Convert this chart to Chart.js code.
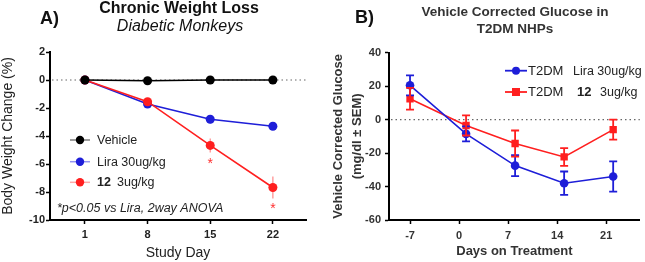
<!DOCTYPE html>
<html><head><meta charset="utf-8">
<script src="https://cdn.jsdelivr.net/npm/chart.js@4.4.0/dist/chart.umd.min.js"></script>
<style>
html,body{margin:0;padding:0;background:#fff;}
#wrap{position:relative;width:645px;height:262px;overflow:hidden;background:#fff;}
#cA{position:absolute;left:0;top:0;}
#cB{position:absolute;left:330px;top:0;}
</style></head><body>
<div id="wrap">
<canvas id="cA" width="330" height="262"></canvas>
<canvas id="cB" width="315" height="262"></canvas>
</div>
<script>
// ---------- Data: panel A (body weight change, %) ----------
const daysA = [1, 8, 15, 22];
const ticksA = [1, 8, 15, 22];
const ticksAY = [-10, -8, -6, -4, -2, 0, 2];
const vehicle = [0, -0.05, 0, 0];
const vehicleErr = [0, 0.1, 0.1, 0.1];
const liraA = [0, -1.72, -2.8, -3.3];
const liraAErr = [0, 0.12, 0.3, 0.25];
const cmp12A = [0, -1.55, -4.67, -7.68];
const cmp12AErr = [0, 0.12, 0.5, 0.78];
const starsA = [{x: 15, y: -5.75}, {x: 22, y: -9.0}];

// ---------- Data: panel B (vehicle corrected glucose) ----------
const daysB = [-7, 1, 8, 15, 22];
const ticksB = [-7, 0, 7, 14, 21];
const liraB = [20.5, -8.5, -27.5, -38, -34];
const liraBErr = [6, 4.5, 6.3, 7, 9];
const cmp12B = [12.5, -3.5, -14.3, -22.3, -6];
const cmp12BErr = [6.5, 6, 7.8, 5.3, 6];

const FF = '"Liberation Sans", Arial, Helvetica, sans-serif';
const BLUE = '#1e1ed8';
const RED = '#ff1f1f';

function pts(xs, ys) { return xs.map((x, i) => ({x: x, y: ys[i]})); }

const zeroLine = {
  id: 'zeroLine',
  beforeDatasetsDraw(chart) {
    const {ctx, chartArea} = chart;
    const y = chart.scales.y.getPixelForValue(0);
    ctx.save();
    ctx.strokeStyle = '#666';
    ctx.lineWidth = 1.2;
    ctx.setLineDash([1.5, 3]);
    ctx.beginPath();
    ctx.moveTo(chartArea.left + 2, y);
    ctx.lineTo(chartArea.right, y);
    ctx.stroke();
    ctx.restore();
  }
};

function errBarPlugin(id, when, capW, width) {
  const p = {id: id};
  p[when] = function(chart) {
    const ctx = chart.ctx;
    const ys = chart.scales.y;
    chart.data.datasets.forEach((ds, di) => {
      if (!ds.errs) return;
      const meta = chart.getDatasetMeta(di);
      ctx.save();
      ctx.strokeStyle = ds.errColor || ds.borderColor;
      ctx.lineWidth = width;
      meta.data.forEach((el, i) => {
        const e = ds.errs[i];
        if (!e) return;
        const v = ds.data[i].y;
        const y1 = ys.getPixelForValue(v + e), y2 = ys.getPixelForValue(v - e);
        ctx.beginPath();
        ctx.moveTo(el.x, y1); ctx.lineTo(el.x, y2);
        if (capW) {
          ctx.moveTo(el.x - capW, y1); ctx.lineTo(el.x + capW, y1);
          ctx.moveTo(el.x - capW, y2); ctx.lineTo(el.x + capW, y2);
        }
        ctx.stroke();
      });
      ctx.restore();
    });
  };
  return p;
}

const textA = {
  id: 'textA',
  afterDraw(chart) {
    const ctx = chart.ctx;
    ctx.save();
    ctx.fillStyle = '#111';
    ctx.textBaseline = 'middle';
    ctx.textAlign = 'center';
    ctx.font = 'bold 16px ' + FF;
    ctx.fillText('Chronic Weight Loss', 179, 9);
    ctx.font = 'italic 16px ' + FF;
    ctx.fillText('Diabetic Monkeys', 180, 27);
    ctx.textAlign = 'left';
    ctx.font = 'bold 18px ' + FF;
    ctx.fillText('A)', 40, 19);
    // legend
    const rows = [
      {y: 140, c: '#000', lc: 'rgba(0,0,0,0.5)', t: [['normal', 'Vehicle', 97]]},
      {y: 161.7, c: BLUE, lc: 'rgba(40,40,230,0.5)', t: [['normal', 'Lira 30ug/kg', 97]]},
      {y: 182.3, c: RED, lc: 'rgba(255,40,40,0.4)', t: [['bold', '12', 97], ['normal', '3ug/kg', 117]]}
    ];
    rows.forEach(r => {
      ctx.strokeStyle = r.lc; ctx.lineWidth = 1.5;
      ctx.beginPath(); ctx.moveTo(70, r.y); ctx.lineTo(90, r.y); ctx.stroke();
      ctx.fillStyle = r.c;
      ctx.beginPath(); ctx.arc(80, r.y, 4.2, 0, Math.PI * 2); ctx.fill();
      ctx.fillStyle = '#222';
      r.t.forEach(t => { ctx.font = t[0] + ' 12.5px ' + FF; ctx.fillText(t[1], t[2], r.y + 0.5); });
    });
    ctx.font = 'italic 12.5px ' + FF;
    ctx.fillStyle = '#222';
    ctx.fillText('*p<0.05 vs Lira, 2way ANOVA', 57, 209);
    // significance stars
    ctx.fillStyle = '#ff3030';
    ctx.font = '14px ' + FF;
    ctx.textAlign = 'center';
    ctx.textBaseline = 'alphabetic';
    starsA.forEach(s => {
      const x = chart.scales.x.getPixelForValue(s.x);
      const y = chart.scales.y.getPixelForValue(s.y);
      ctx.fillText('*', x, y + 7);
    });
    ctx.restore();
  }
};

const textB = {
  id: 'textB',
  afterDraw(chart) {
    const ctx = chart.ctx;
    ctx.save();
    ctx.fillStyle = '#333';
    ctx.textBaseline = 'middle';
    ctx.textAlign = 'center';
    ctx.font = 'bold 13.5px ' + FF;
    ctx.fillText('Vehicle Corrected Glucose in', 185, 12.5);
    ctx.fillText('T2DM NHPs', 185, 29.5);
    ctx.textAlign = 'left';
    ctx.fillStyle = '#111';
    ctx.font = 'bold 18px ' + FF;
    ctx.fillText('B)', 25, 18);
    // legend
    const y1 = 70.7, y2 = 92;
    ctx.lineWidth = 1.8;
    ctx.strokeStyle = BLUE; ctx.fillStyle = BLUE;
    ctx.beginPath(); ctx.moveTo(175, y1); ctx.lineTo(197, y1); ctx.stroke();
    ctx.beginPath(); ctx.arc(186, y1, 4, 0, Math.PI * 2); ctx.fill();
    ctx.strokeStyle = RED; ctx.fillStyle = RED;
    ctx.beginPath(); ctx.moveTo(175, y2); ctx.lineTo(197, y2); ctx.stroke();
    ctx.fillRect(182, y2 - 4, 8, 8);
    ctx.fillStyle = '#222';
    ctx.font = '13px ' + FF;
    ctx.fillText('T2DM', 198, y1 + 0.5);
    ctx.font = '12.5px ' + FF;
    ctx.fillText('Lira 30ug/kg', 243, y1 + 0.5);
    ctx.font = '13px ' + FF;
    ctx.fillText('T2DM', 198, y2 + 0.5);
    ctx.font = 'bold 13px ' + FF;
    ctx.fillText('12', 247, y2 + 0.5);
    ctx.font = '12.5px ' + FF;
    ctx.fillText('3ug/kg', 270, y2 + 0.5);
    ctx.restore();
  }
};

function axisCommon() {
  return {
    grid: {drawOnChartArea: false, drawTicks: true, tickLength: 4, color: '#000', tickWidth: 1.5},
    border: {display: true, color: '#000', width: 2}
  };
}

// ---------- Chart A ----------
new Chart(document.getElementById('cA'), {
  type: 'line',
  data: {
    datasets: [
      {data: pts(daysA, vehicle), errs: vehicleErr, borderColor: '#000', backgroundColor: '#000',
       errColor: 'rgba(0,0,0,0.4)', borderWidth: 1.6, pointRadius: 4.5, pointBorderWidth: 0, order: 1},
      {data: pts(daysA, liraA), errs: liraAErr, borderColor: BLUE, backgroundColor: BLUE,
       errColor: 'rgba(40,40,230,0.5)', borderWidth: 1.6, pointRadius: 4.5, pointBorderWidth: 0, order: 3},
      {data: pts(daysA, cmp12A), errs: cmp12AErr, borderColor: RED, backgroundColor: RED,
       errColor: 'rgba(255,40,40,0.55)', borderWidth: 1.6, pointRadius: 4.5, pointBorderWidth: 0, order: 2}
    ]
  },
  options: {
    responsive: false, animation: false,
    layout: {padding: {top: 52, right: 24, left: 0, bottom: 0}},
    plugins: {legend: {display: false}, tooltip: {enabled: false}},
    elements: {line: {tension: 0}},
    scales: {
      x: Object.assign(axisCommon(), {
        type: 'linear', min: -2.9, max: 25.7,
        afterBuildTicks: s => { s.ticks = ticksA.map(v => ({value: v})); },
        afterFit: s => { s.height = 42; },
        ticks: {font: {family: FF, size: 11, weight: 'bold'}, color: '#222', padding: 4},
        title: {display: true, text: 'Study Day', font: {family: FF, size: 14}, color: '#222', padding: {top: 0, bottom: 0.5}}
      }),
      y: Object.assign(axisCommon(), {
        min: -10, max: 2,
        afterBuildTicks: s => { s.ticks = ticksAY.map(v => ({value: v})); },
        afterFit: s => { s.width = 50; },
        ticks: {font: {family: FF, size: 11, weight: 'bold'}, color: '#222', padding: 1},
        title: {display: true, text: 'Body Weight Change (%)', font: {family: FF, size: 14}, color: '#222', padding: {top: 0, bottom: 0}}
      })
    }
  },
  plugins: [zeroLine, errBarPlugin('errA', 'beforeDatasetsDraw', 0, 1.2), textA]
});

// ---------- Chart B ----------
new Chart(document.getElementById('cB'), {
  type: 'line',
  data: {
    datasets: [
      {data: pts(daysB, liraB), errs: liraBErr, borderColor: BLUE, backgroundColor: BLUE,
       borderWidth: 1.6, pointRadius: 4.3, pointBorderWidth: 0, pointStyle: 'circle'},
      {data: pts(daysB, cmp12B), errs: cmp12BErr, borderColor: RED, backgroundColor: RED,
       borderWidth: 1.6, pointRadius: 5.2, pointBorderWidth: 0, pointStyle: 'rect'}
    ]
  },
  options: {
    responsive: false, animation: false,
    layout: {padding: {top: 52.7, right: 3, left: 0, bottom: 0}},
    plugins: {legend: {display: false}, tooltip: {enabled: false}},
    elements: {line: {tension: 0}},
    scales: {
      x: Object.assign(axisCommon(), {
        type: 'linear', min: -10, max: 25.8,
        afterBuildTicks: s => { s.ticks = ticksB.map(v => ({value: v})); },
        afterFit: s => { s.height = 42; },
        ticks: {font: {family: FF, size: 11, weight: 'bold'}, color: '#333', padding: 5},
        title: {display: true, text: 'Days on Treatment', font: {family: FF, size: 13, weight: 'bold'}, color: '#333', padding: {top: 0, bottom: 2.5}}
      }),
      y: Object.assign(axisCommon(), {
        min: -60, max: 40,
        ticks: {stepSize: 20, font: {family: FF, size: 11, weight: 'bold'}, color: '#333', padding: 4},
        afterFit: s => { s.width = 59; },
        title: {display: true, text: ['Vehicle Corrected Glucose', '(mg/dl \u00b1 SEM)'],
                font: {family: FF, size: 13, weight: 'bold', lineHeight: '19px'}, color: '#333', padding: {top: -1, bottom: 0}}
      })
    }
  },
  plugins: [zeroLine, errBarPlugin('errB', 'afterDatasetsDraw', 4, 1.8), textB]
});
</script>
</body></html>
